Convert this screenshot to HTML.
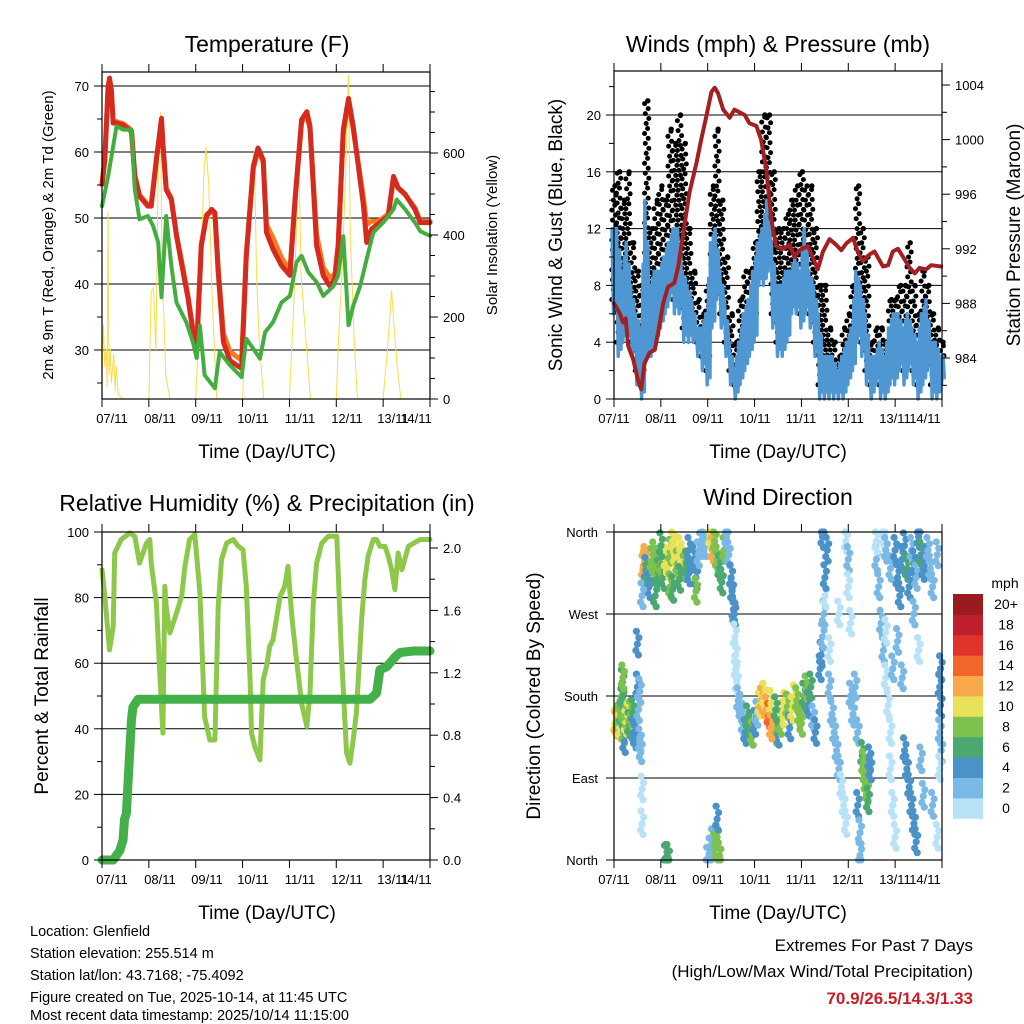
<!DOCTYPE html>
<html><head><meta charset="utf-8"><style>
html,body{margin:0;padding:0;background:#fff;}
svg{display:block;font-family:"Liberation Sans",sans-serif;}
</style></head><body>
<svg id="chart" width="1024" height="1024" viewBox="0 0 1024 1024">
<rect x="0" y="0" width="1024" height="1024" fill="#fff"/>
<g id="layer"></g>
<text x="267" y="52" font-size="23" text-anchor="middle">Temperature (F)</text>
<text x="778" y="52" font-size="23" text-anchor="middle">Winds (mph) &amp; Pressure (mb)</text>
<text x="267" y="511" font-size="23" text-anchor="middle">Relative Humidity (%) &amp; Precipitation (in)</text>
<text x="778" y="505" font-size="23" text-anchor="middle">Wind Direction</text>
<text transform="translate(53,235) rotate(-90)" font-size="15" text-anchor="middle">2m &amp; 9m T (Red, Orange) &amp; 2m Td (Green)</text>
<text transform="translate(497,235) rotate(-90)" font-size="15" text-anchor="middle">Solar Insolation (Yellow)</text>
<text transform="translate(562,235) rotate(-90)" font-size="19" text-anchor="middle">Sonic Wind &amp; Gust (Blue, Black)</text>
<text transform="translate(1020,235) rotate(-90)" font-size="19" text-anchor="middle">Station Pressure (Maroon)</text>
<text transform="translate(48,696) rotate(-90)" font-size="19" text-anchor="middle">Percent &amp; Total Rainfall</text>
<text transform="translate(540,696) rotate(-90)" font-size="19" text-anchor="middle">Direction (Colored By Speed)</text>
<text x="267" y="458" font-size="19" text-anchor="middle">Time (Day/UTC)</text>
<text x="778" y="458" font-size="19" text-anchor="middle">Time (Day/UTC)</text>
<text x="267" y="919" font-size="19" text-anchor="middle">Time (Day/UTC)</text>
<text x="778" y="919" font-size="19" text-anchor="middle">Time (Day/UTC)</text>
<g font-size="14.5">
<text x="30" y="936">Location: Glenfield</text>
<text x="30" y="958">Station elevation: 255.514 m</text>
<text x="30" y="980">Station lat/lon: 43.7168; -75.4092</text>
<text x="30" y="1002">Figure created on Tue, 2025-10-14, at 11:45 UTC</text>
<text x="30" y="1020">Most recent data timestamp: 2025/10/14 11:15:00</text>
</g>
<text x="973" y="951" font-size="17" text-anchor="end">Extremes For Past 7 Days</text>
<text x="973" y="977" font-size="17" text-anchor="end">(High/Low/Max Wind/Total Precipitation)</text>
<text x="973" y="1004" font-size="17" font-weight="bold" fill="#c8202a" text-anchor="end">70.9/26.5/14.3/1.33</text>
</svg>
<script>
// ---------- data ----------
var dayLabels=["07/11","08/11","09/11","10/11","11/11","12/11","13/11","14/11"];
var tDays=[0,0.06,0.13,0.16,0.2,0.24,0.31,0.45,0.63,0.70,0.80,0.98,1.05,1.16,1.27,1.30,1.37,1.48,1.59,1.73,1.84,1.94,2.02,2.12,2.23,2.34,2.41,2.48,2.59,2.73,2.87,2.98,3.08,3.23,3.33,3.44,3.51,3.65,3.83,4.01,4.12,4.26,4.37,4.44,4.58,4.72,4.86,4.97,5.04,5.15,5.26,5.36,5.58,5.65,5.75,5.93,6.11,6.22,6.32,6.47,6.68,6.79,7];
var tRed=[55.1,58.8,69.9,71.2,69.4,64.4,64.4,64.1,63.1,56.3,53.3,51.8,51.8,58.8,65.1,61.4,54.3,52.8,47.3,41.8,37.7,32.7,30.2,45.8,50.3,51.3,50.8,41.8,31.2,28.4,27.7,27.2,44.3,57.8,60.6,58.8,47.8,45.3,42.8,41.3,52.8,64.9,66.1,63.9,45.8,41.3,39.7,40.8,45.8,63.4,68.1,63.9,51.8,46.3,48.3,49.3,50.3,56.3,54.6,53.6,51.3,49.3,49.3];
var tOrange=[55.1,58.8,69.5,70.8,69.0,64.4,64.6,64.3,63.3,56.5,53.5,52.0,52.0,59.0,64.5,61.0,54.5,53.0,47.5,42.3,38.0,33.2,31.0,46.0,50.5,51.0,50.5,42.5,32.5,29.8,29.0,28.5,44.5,57.5,60.2,58.5,49.0,47.0,44.0,42.0,53.0,64.5,65.5,63.5,47.5,42.5,41.0,41.5,46.0,63.0,67.5,63.5,53.0,49.0,49.5,49.6,50.6,56.0,54.5,53.5,51.5,49.5,49.5];
var tdDays=[0,0.13,0.24,0.31,0.45,0.63,0.70,0.80,0.98,1.09,1.20,1.27,1.37,1.48,1.59,1.80,1.94,2.02,2.09,2.19,2.41,2.51,2.73,2.98,3.08,3.23,3.37,3.48,3.65,3.83,4.01,4.15,4.26,4.40,4.58,4.72,4.94,5.04,5.15,5.26,5.36,5.51,5.65,5.79,6.00,6.22,6.29,6.47,6.68,6.79,7];
var tdVals=[51.8,56.3,60.9,63.9,63.4,63.4,54.3,49.8,50.3,48.8,46.3,38.0,50.3,42.8,37.2,34.2,31.2,28.7,33.7,26.2,24.2,29.7,27.7,25.9,31.7,30.2,28.7,32.7,34.2,37.2,38.2,43.3,44.3,41.8,40.3,38.2,39.7,41.3,47.3,33.7,36.7,39.7,43.8,47.8,49.3,51.3,52.8,51.3,49.3,48.0,47.3];
var solDays=[0,0.03,0.06,0.09,0.11,0.13,0.15,0.18,0.2,0.25,0.28,0.3,0.35,0.45,1.0,1.05,1.1,1.15,1.2,1.25,1.28,1.32,1.36,1.45,2.0,2.1,2.17,2.22,2.28,2.35,2.45,3.0,3.1,3.2,3.25,3.3,3.35,3.45,4.0,4.1,4.15,4.2,4.25,4.35,4.45,5.0,5.05,5.12,5.2,5.26,5.3,5.38,5.45,6.0,6.1,6.18,6.25,6.3,6.38,7];
var solVals=[60,180,80,120,30,456,60,120,40,110,20,80,10,0,0,263,270,120,560,700,300,200,60,0,0,250,540,615,520,250,0,0,300,560,605,300,150,0,0,250,420,610,300,150,0,0,150,300,550,790,400,150,0,0,130,265,150,80,0,0];
var wDays=[0,0.1,0.2,0.3,0.4,0.5,0.6,0.7,0.8,0.9,1.0,1.1,1.2,1.3,1.4,1.5,1.6,1.7,1.8,1.9,2.0,2.1,2.2,2.3,2.4,2.5,2.6,2.7,2.8,2.9,3.0,3.1,3.2,3.3,3.4,3.5,3.6,3.7,3.8,3.9,4.0,4.1,4.2,4.3,4.4,4.5,4.6,4.7,4.8,4.9,5.0,5.1,5.2,5.3,5.4,5.5,5.6,5.7,5.8,5.9,6.0,6.1,6.2,6.3,6.4,6.5,6.6,6.7,6.8,6.9,7.0];
var windHi=[12,12,9,11,8,6,5,14,8,9,9,10,11,12,12,9,8,7,5,5,6,11,12,9,7,4,2,4,6,7,9,11,12,14,11,8,8,9,9,10,9,12,9,8,6,3,3,3,2,3,4,5,9,8,6,3,3,4,3,5,6,6,5,6,5,4,6,7,4,4,3];
var windLo=[6,3,4,4,3,1,0,3,3,4,5,6,7,6,6,4,4,4,3,2,1,5,7,5,3,1,0,1,2,3,4,8,8,9,5,3,3,4,6,6,5,6,5,3,0,0,0,0,0,0,1,2,4,3,1,0,1,0,0,1,1,2,1,2,1,0,1,2,0,0,1];
var gustMax=[15,16,14,16,11,9,8,21,12,14,15,14,19,18,20,18,12,9,7,6,8,15,19,14,10,6,4,7,9,9,11,16,20,20,16,12,12,13,14,15,16,15,15,12,8,8,5,4,3,5,6,8,15,12,10,4,5,5,4,7,7,8,8,11,8,6,9,8,6,5,4];
var pDays=[0,0.12,0.19,0.25,0.30,0.41,0.51,0.58,0.65,0.76,0.87,0.94,1.05,1.15,1.29,1.37,1.51,1.61,1.76,1.86,1.97,2.08,2.15,2.22,2.33,2.47,2.57,2.68,2.79,2.89,3.04,3.14,3.25,3.36,3.46,3.61,3.75,3.85,3.96,4.14,4.25,4.35,4.46,4.60,4.74,4.85,4.96,5.10,5.21,5.31,5.46,5.56,5.74,5.85,5.95,6.06,6.17,6.31,6.42,6.52,6.66,6.77,6.98];
var pVals=[988.0,987.3,986.6,986.9,984.9,983.9,982.4,981.7,983.6,984.4,984.6,985.8,988.0,989.2,989.5,990.7,993.9,996.1,998.3,1000.0,1001.7,1003.5,1003.8,1003.4,1002.2,1001.6,1002.2,1002.0,1001.8,1001.2,1001.0,1000.0,997.8,994.1,992.2,992.0,992.3,991.4,991.9,992.2,991.3,990.5,991.8,992.7,992.3,991.9,992.4,992.8,991.7,991.1,991.6,991.8,990.7,990.8,991.8,992.0,991.4,990.6,990.2,990.6,990.5,990.8,990.7];
var rhDays=[0,0.06,0.16,0.24,0.27,0.34,0.41,0.59,0.70,0.80,0.95,1.02,1.05,1.16,1.23,1.30,1.34,1.37,1.45,1.59,1.70,1.77,1.87,1.98,2.09,2.19,2.30,2.41,2.48,2.55,2.66,2.80,2.91,3.01,3.08,3.16,3.19,3.26,3.37,3.44,3.51,3.58,3.65,3.80,3.90,3.97,4.05,4.15,4.26,4.37,4.44,4.51,4.58,4.69,4.83,5.01,5.11,5.22,5.29,5.36,5.43,5.54,5.61,5.68,5.79,5.86,5.93,6.04,6.11,6.18,6.25,6.32,6.40,6.54,6.65,6.79,7];
var rhVals=[88.5,80.4,64.1,71.2,93.6,95.6,97.7,99.7,98.7,90.5,96.6,97.7,90.5,78.3,58.0,38.7,83.4,77.3,69.2,75.3,80.4,89.5,97.7,99.2,81.4,43.7,36.6,36.6,77.3,91.6,96.6,97.7,95.6,94.6,83.4,54.9,38.7,34.6,30.5,54.9,59.0,65.1,67.1,80.4,83.4,89.5,74.3,61.0,47.8,40.7,50.9,78.3,90.5,96.6,98.7,98.7,63.1,32.6,29.5,36.6,44.8,73.2,85.5,92.6,97.7,97.7,95.6,95.6,92.6,88.5,82.4,93.6,88.5,95.6,96.6,97.7,97.7];
var prDays=[0,0.24,0.38,0.45,0.48,0.52,0.59,0.63,0.66,0.77,5.72,5.86,5.93,6.08,6.25,6.36,6.65,7];
var prVals=[0,0,0.06,0.13,0.26,0.30,0.68,0.90,0.98,1.03,1.03,1.07,1.22,1.24,1.30,1.33,1.34,1.34];
var dirDays=[0.02,0.05,0.08,0.1,0.12,0.15,0.17,0.18,0.18,0.19,0.2,0.22,0.25,0.28,0.3,0.32,0.35,0.4,0.42,0.45,0.5,0.52,0.55,0.55,0.57,0.5,0.6,0.6,
0.62,0.65,0.66,0.68,0.7,0.75,0.8,0.85,0.9,0.95,1.0,1.05,1.1,1.15,1.2,1.2,1.25,1.3,1.32,1.35,1.4,1.45,1.5,1.55,1.6,1.7,1.75,1.8,1.85,1.9,1.95,2.05,2.1,2.15,2.2,2.25,2.3,2.35,2.4,2.45,2.5,2.52,2.55,2.57,1.75,0.6,0.88,1.25,1.0,1.4,1.6,
2.58,2.6,2.6,2.62,2.65,2.7,2.75,2.8,2.85,2.9,2.95,3.0,3.05,3.1,3.15,3.2,3.25,3.3,3.35,3.4,3.45,3.5,3.55,3.6,3.65,3.7,3.75,3.8,3.85,3.9,3.95,4.0,4.05,4.1,4.15,4.2,4.25,4.3,3.35,3.45,
4.4,4.42,4.45,4.48,4.5,4.5,4.55,4.6,4.65,4.7,4.75,4.8,4.85,4.9,4.95,4.95,5.0,5.0,5.05,5.05,5.1,5.15,5.2,5.2,5.25,5.25,4.6,4.8,4.45,
5.3,5.32,5.35,5.37,5.4,5.42,5.45,5.47,
5.6,5.65,5.7,5.75,5.8,5.85,5.9,5.9,5.95,6.0,5.6,5.75,5.8,5.9,6.0,6.05,6.1,6.15,6.2,6.25,6.3,6.35,6.4,6.45,6.5,6.55,6.6,6.65,6.7,6.75,6.8,6.9,5.8,5.95,6.05,6.15,6.2,6.25,6.3,6.35,6.4,6.45,6.55,6.6,6.4,6.5,6.8,6.95,6.97,6.95,6.98,6.95,6.97,6.9,
1.1,1.12,1.15,2.05,2.1,2.15,2.2,2.25,2.2,2.0];
var dirDeg=[150,148,152,156,145,160,165,178,195,200,140,130,150,155,158,148,160,162,140,135,190,165,185,130,120,237,78,40,
320,325,330,318,310,300,328,335,320,315,325,310,330,322,338,300,350,335,318,325,340,330,320,325,315,330,310,335,345,352,345,355,340,350,330,320,305,340,355,335,310,295,275,270,295,290,290,297,345,308,340,
245,225,210,195,175,165,150,140,155,145,138,150,160,170,175,180,165,158,172,150,140,138,150,160,170,168,145,165,178,175,160,150,180,188,170,190,155,140,145,165,
210,225,245,270,290,310,340,190,160,140,120,100,80,60,40,350,330,300,260,180,160,190,140,60,30,5,230,270,355,
115,105,95,85,75,65,110,100,
330,300,260,230,200,170,140,100,60,25,350,355,340,320,340,310,290,330,345,320,300,340,325,310,355,335,320,330,340,320,300,335,250,210,240,200,120,100,80,60,40,20,110,70,270,230,60,190,170,140,120,100,210,25,
2,3,3,10,20,15,25,5,45,0];
var dirSpd=[10,12,9,8,10,7,8,6,6,8,8,4,10,8,10,7,8,6,4,4,4,2,2,2,2,4,0,0,
12,12,13,4,6,4,8,8,8,6,8,6,10,10,8,8,10,10,10,8,10,10,8,6,4,4,4,2,2,2,2,10,12,8,8,6,6,8,2,2,4,4,4,4,8,2,6,6,6,6,4,
0,0,0,0,2,2,2,4,6,6,8,4,2,10,12,10,12,14,10,10,8,4,8,10,10,8,4,10,10,8,8,8,6,8,4,6,2,4,12,6,
4,4,2,2,0,4,4,2,2,2,2,2,0,0,0,0,2,0,0,2,2,2,2,4,2,2,0,0,4,
6,8,8,8,8,6,4,4,
2,2,2,2,0,0,0,0,0,0,0,0,2,2,4,4,4,4,4,6,4,2,4,2,4,6,4,4,2,2,2,2,0,2,2,2,4,4,4,4,4,4,2,2,2,0,2,4,4,2,2,0,4,0,
6,6,6,2,2,8,8,8,4,2];
var spdColors=["#b7e2f7","#7ab8e6","#4b92c8","#4aa870","#7dc24e","#e8e15a","#f8a94a","#f2652b","#e0342a","#bf1e2d","#991b1e"];
var spdLabels=["0","2","4","6","8","10","12","14","16","18","20+"];

// ---------- helpers ----------
var NS="http://www.w3.org/2000/svg";
var layer=document.getElementById("layer");
function mk(tag,attrs,parent){var e=document.createElementNS(NS,tag);for(var k in attrs)e.setAttribute(k,attrs[k]);(parent||layer).appendChild(e);return e;}
function line(x1,y1,x2,y2,st,w,name){var e=mk("line",{x1:x1,y1:y1,x2:x2,y2:y2,stroke:st,"stroke-width":w});


return e;}
function txt(x,y,s,anchor,size,name){var e=mk("text",{x:x,y:y,"text-anchor":anchor,"font-size":size});e.textContent=s;


return e;}
function poly(xs,ys,st,w,name){var p=[];for(var i=0;i<xs.length;i++)p.push(xs[i].toFixed(1)+","+ys[i].toFixed(1));
var e=mk("polyline",{points:p.join(" "),fill:"none",stroke:st,"stroke-width":w,"stroke-linejoin":"round","stroke-linecap":"round"});


return e;}
function dot(x,y,r,fill,name){var e=mk("circle",{cx:x.toFixed(1),cy:y.toFixed(1),r:r,fill:fill});


return e;}
function frame(L,T,R,B,prefix,xfn,xlabels){
  var f=mk("rect",{x:L,y:T,width:R-L,height:B-T,fill:"none",stroke:"#000","stroke-width":1.2});
  
  
  for(var d=0;d<=7;d++){var x=xfn(d);line(x,B,x,B+8,"#000",1,prefix+'-x-tick');line(x,T,x,T-8,"#000",1,prefix+'-x-tick-top');}
  for(var i=0;i<xlabels.length;i++){txt(xlabels[i][0],B+24,dayLabels[i],"middle",13,prefix+'-x-tick-label');}
}
function yTicks(vals,fn,x,dir,len,labels,prefix,lx,anchor){
  for(var i=0;i<vals.length;i++){var y=fn(vals[i]);line(x,y,x+dir*len,y,"#000",1,prefix+'-tick');
    if(labels)txt(lx,y+5,labels[i],anchor,13,prefix+'-tick-label');}
}
function grid(vals,fn,L,R,prefix){for(var i=0;i<vals.length;i++){var y=fn(vals[i]);line(L,y,R,y,"#000",1,prefix+'-gridline');}}
function map(arr,fn){var o=[];for(var i=0;i<arr.length;i++)o.push(fn(arr[i]));return o;}

// ---------- panel 1: temperature ----------
(function(){
  var L=102,T=72,R=430,B=399;
  var x=function(d){return L+d*(R-L)/7;};
  var yT=function(v){return 86+(70-v)*6.6;};
  var yS=function(v){return B-v*0.41;};
  grid([30,40,50,60,70],yT,L,R,'temperature');
  poly(map(solDays,x),map(solVals,yS),"#f9dc4a",1,'solar-insolation-line');
  poly(map(tDays,x),map(tOrange,yT),"#f47b20",5,'temperature-9m-line');
  poly(map(tDays,x),map(tRed,yT),"#d52a20",5,'temperature-2m-line');
  var g=poly(map(tdDays,x),map(tdVals,yT),"#44ad3f",4,'dewpoint-2m-line');
  g.setAttribute("stroke-dasharray","3 1.5");
  frame(L,T,R,B,'temperature',x,[[112],[160],[207],[253],[300],[347],[393],[416]]);
  yTicks([30,40,50,60,70],yT,L,-1,8,["30","40","50","60","70"],'temperature-y',L-13,"end");
  yTicks([25,35,45,55,65],yT,L,-1,5,null,'temperature-y-minor');
  yTicks([0,200,400,600],yS,R,1,8,["0","200","400","600"],'solar-y',R+13,"start");
  yTicks([50,100,150,250,300,350,450,500,550,650,700,750],yS,R,1,5,null,'solar-y-minor');
})();

// ---------- panel 2: winds ----------
(function(){
  var L=614,T=71,R=942,B=399;
  var x=function(d){return L+d*(R-L)/7;};
  var yW=function(v){return B-v*14.2;};
  var yP=function(p){return 85+(1004-p)*13.65;};
  grid([4,8,12,16,20],yW,L,R,'winds');
  var offs=[-2.2,0.8,-0.6,2.0,-1.5,1.4];
  for(var i=0;i<wDays.length;i++){
    var xx=x(wDays[i]);
    var n=0;
    for(var g=windLo[i]+1;g<=gustMax[i];g+=0.35){dot(xx+offs[n%6],yW(g),2.5,"#000",'gust-point');n++;}
    dot(xx+1,yW(gustMax[i]),2.7,"#000",'gust-point');
  }
  var hx=[],hy=[];
  for(var k=0;k<wDays.length;k++){
    var xa=x(wDays[k]);
    var nh=k+1<wDays.length?windHi[k+1]:windHi[k];
    hx.push(xa-2);hy.push(yW(windHi[k]));
    hx.push(xa-0.5);hy.push(yW(windLo[k]));
    hx.push(xa+1);hy.push(yW((windHi[k]+nh)/2));
    hx.push(xa+2.3);hy.push(yW(windLo[k]+0.5));
  }
  poly(hx,hy,"#4f97d2",3.5,'wind-speed-line');
  poly(map(pDays,x),map(pVals,yP),"#a31f22",4,'pressure-line');
  frame(L,T,R,B,'winds',x,[[614],[661],[708],[755],[801],[848],[895],[925]]);
  yTicks([0,4,8,12,16,20],yW,L,-1,8,["0","4","8","12","16","20"],'wind-y',L-13,"end");
  yTicks([2,6,10,14,18,22],yW,L,-1,5,null,'wind-y-minor');
  yTicks([984,988,992,996,1000,1004],yP,R,1,8,["984","988","992","996","1000","1004"],'pressure-y',R+13,"start");
  yTicks([982,986,990,994,998,1002],yP,R,1,5,null,'pressure-y-minor');
})();

// ---------- panel 3: humidity ----------
(function(){
  var L=102,T=532,R=430,B=860;
  var x=function(d){return L+d*(R-L)/7;};
  var yR=function(v){return B-v*3.28;};
  var yPr=function(v){return B-v*156;};
  grid([20,40,60,80],yR,L,R,'humidity');
  poly(map(rhDays,x),map(rhVals,yR),"#8dc84b",5,'relative-humidity-line');
  poly(map(prDays,x),map(prVals,yPr),"#43b04a",9,'precipitation-line');
  frame(L,T,R,B,'humidity',x,[[112],[160],[207],[253],[300],[347],[393],[416]]);
  yTicks([0,20,40,60,80,100],yR,L,-1,8,["0","20","40","60","80","100"],'humidity-y',L-13,"end");
  yTicks([10,30,50,70,90],yR,L,-1,5,null,'humidity-y-minor');
  yTicks([0,0.4,0.8,1.2,1.6,2.0],yPr,R,1,8,["0.0","0.4","0.8","1.2","1.6","2.0"],'precip-y',R+13,"start");
  yTicks([0.2,0.6,1.0,1.4,1.8],yPr,R,1,5,null,'precip-y-minor');
})();

// ---------- panel 4: wind direction ----------
(function(){
  var L=614,T=532,R=942,B=860;
  var x=function(d){return L+d*(R-L)/7;};
  var yD=function(v){return B-v*(B-T)/360;};
  grid([90,180,270],yD,L,R,'direction');
  var jd=[0,7,-7,14,-12],jx=[0,1.5,-1.5,-1,1];
  for(var i=0;i<dirDays.length;i++){
    var c=Math.min(10,Math.floor(dirSpd[i]/2));
    for(var m=0;m<5;m++){
      var dv=Math.max(0,Math.min(360,dirDeg[i]+jd[m]));
      dot(x(dirDays[i])+jx[m],yD(dv),3.6,spdColors[c],'direction-point');
    }
  }
  frame(L,T,R,B,'direction',x,[[614],[661],[708],[755],[801],[848],[895],[925]]);
  yTicks([0,90,180,270,360],yD,L,-1,8,["North","East","South","West","North"],'direction-y',L-16,"end");
  txt(1005,588,"mph","middle",14,'colorbar-title');
  for(var k=0;k<11;k++){
    var top=594+(10-k)*20.4;
    var r=mk("rect",{x:953,y:top.toFixed(1),width:30,height:20.8,fill:spdColors[k]});
    
    
    txt(1006,top+15,spdLabels[k],"middle",14,'colorbar-label');
  }
})();
</script>
</body></html>
